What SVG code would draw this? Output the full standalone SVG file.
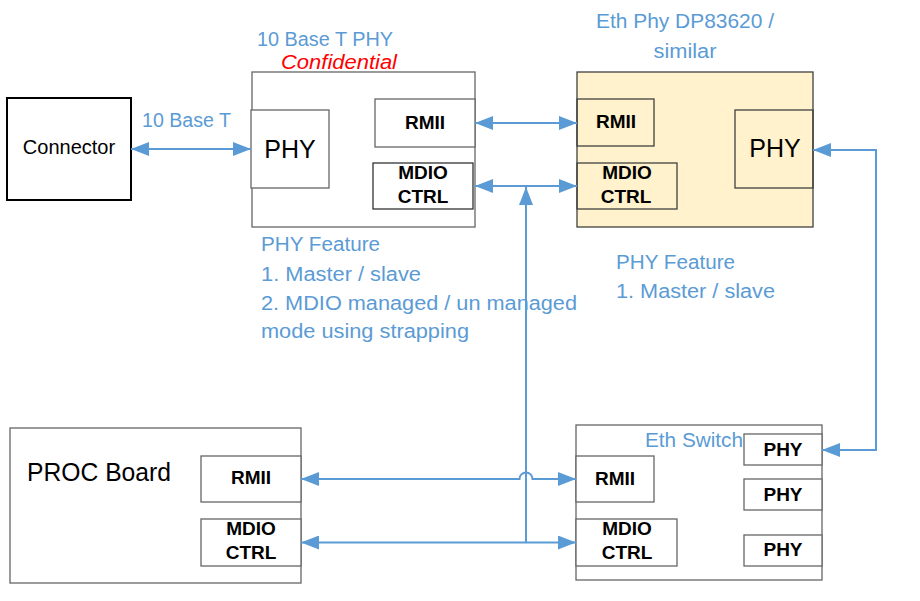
<svg xmlns="http://www.w3.org/2000/svg" width="920" height="601" viewBox="0 0 920 601">
<style>
.box{fill:#ffffff;stroke:#666666;stroke-width:1.3}
.dark{fill:none;stroke:#404040;stroke-width:1.3}
.blk{fill:#ffffff;stroke:#000000;stroke-width:2}
.lbl{font-family:"Liberation Sans",Arial,sans-serif;fill:#5B9BD5;font-size:20px}
.b{font-family:"Liberation Sans",Arial,sans-serif;font-weight:bold;fill:#000;font-size:19px;text-anchor:middle}
.n{font-family:"Liberation Sans",Arial,sans-serif;fill:#000}
.wire{fill:none;stroke:#5B9BD5;stroke-width:2}
</style>
<defs>
<marker id="ah" viewBox="0 0 18 14" refX="18" refY="7" markerWidth="18" markerHeight="14" markerUnits="userSpaceOnUse" orient="auto-start-reverse">
<path d="M0,0 L18,7 L0,14 z" fill="#5B9BD5"/>
</marker>
</defs>
<rect width="920" height="601" fill="#ffffff"/>

<g id="connector">
<rect class="blk" x="7" y="98" width="124" height="102"/>
<text class="n" x="69" y="154" font-size="20" text-anchor="middle">Connector</text>
</g>

<g id="phy10">
<text class="lbl" x="257" y="46" textLength="136" lengthAdjust="spacingAndGlyphs">10 Base T PHY</text>
<text x="281" y="69" font-family="Liberation Sans,Arial,sans-serif" font-style="italic" font-size="20" fill="#FF0000" textLength="116" lengthAdjust="spacingAndGlyphs">Confidential</text>
<rect class="box" x="252" y="72" width="223" height="155"/>
<g id="phy10-phy"><rect class="box" x="251" y="110" width="78" height="78"/>
<text class="n" x="290" y="158" font-size="25" text-anchor="middle">PHY</text></g>
<g id="phy10-rmii"><rect class="box" x="375" y="99" width="100" height="48"/>
<text class="b" x="425" y="129">RMII</text></g>
<g id="phy10-mdio"><rect class="box" x="373" y="163" width="100" height="46" style="stroke:#333"/>
<text class="b" x="423" y="179">MDIO</text><text class="b" x="423" y="203">CTRL</text></g>
</g>

<g id="ethphy">
<text class="lbl" x="685" y="28" text-anchor="middle" textLength="178" lengthAdjust="spacingAndGlyphs">Eth Phy DP83620 /</text>
<text class="lbl" x="685" y="58" text-anchor="middle" textLength="63" lengthAdjust="spacingAndGlyphs">similar</text>
<rect x="577" y="72" width="236" height="155" fill="#FFF2CC" stroke="#404040" stroke-width="1.3"/>
<g id="ethphy-rmii"><rect class="dark" x="577" y="99" width="77" height="47"/>
<text class="b" x="616" y="128">RMII</text></g>
<g id="ethphy-mdio"><rect class="dark" x="577" y="163" width="100" height="46"/>
<text class="b" x="627" y="179">MDIO</text><text class="b" x="626" y="203">CTRL</text></g>
<g id="ethphy-phy"><rect class="dark" x="735" y="110" width="78" height="78"/>
<text class="n" x="775" y="157" font-size="25" text-anchor="middle">PHY</text></g>
</g>

<g id="notes">
<text class="lbl" x="142" y="127" textLength="89" lengthAdjust="spacingAndGlyphs">10 Base T</text>
<text class="lbl" x="261" y="251" textLength="119" lengthAdjust="spacingAndGlyphs">PHY Feature</text>
<text class="lbl" x="261" y="281" textLength="160" lengthAdjust="spacingAndGlyphs">1. Master / slave</text>
<text class="lbl" x="261" y="310" textLength="316" lengthAdjust="spacingAndGlyphs">2. MDIO managed / un managed</text>
<text class="lbl" x="261" y="338" textLength="208" lengthAdjust="spacingAndGlyphs">mode using strapping</text>
<text class="lbl" x="616" y="269" textLength="119" lengthAdjust="spacingAndGlyphs">PHY Feature</text>
<text class="lbl" x="616" y="298" textLength="159" lengthAdjust="spacingAndGlyphs">1. Master / slave</text>
</g>

<g id="proc">
<rect class="box" x="10" y="428" width="291" height="155"/>
<text class="n" x="27" y="481" font-size="25" textLength="144" lengthAdjust="spacingAndGlyphs">PROC Board</text>
<g id="proc-rmii"><rect class="box" x="201" y="456" width="100" height="46"/>
<text class="b" x="251" y="484">RMII</text></g>
<g id="proc-mdio"><rect class="box" x="201" y="519" width="100" height="47"/>
<text class="b" x="251" y="535">MDIO</text><text class="b" x="251" y="559">CTRL</text></g>
</g>

<g id="switch">
<rect class="box" x="576" y="425" width="246" height="155"/>
<text class="lbl" x="645" y="447" textLength="98" lengthAdjust="spacingAndGlyphs">Eth Switch</text>
<g id="switch-rmii"><rect class="box" x="576" y="456" width="78" height="46"/>
<text class="b" x="615" y="485">RMII</text></g>
<g id="switch-mdio"><rect class="box" x="576" y="519" width="101" height="47"/>
<text class="b" x="627" y="535">MDIO</text><text class="b" x="627" y="559">CTRL</text></g>
<g id="switch-phy1"><rect class="box" x="744" y="434" width="78" height="31"/>
<text class="b" x="783" y="456" font-size="16">PHY</text></g>
<g id="switch-phy2"><rect class="box" x="744" y="479" width="78" height="31"/>
<text class="b" x="783" y="501" font-size="16">PHY</text></g>
<g id="switch-phy3"><rect class="box" x="744" y="535" width="78" height="31"/>
<text class="b" x="783" y="556" font-size="16">PHY</text></g>
</g>

<g id="connectors">
<path class="wire" d="M131,149 L251,149" marker-start="url(#ah)" marker-end="url(#ah)"/>
<path class="wire" d="M475,123 L577,123" marker-start="url(#ah)" marker-end="url(#ah)"/>
<path class="wire" d="M475,186 L577,186" marker-start="url(#ah)" marker-end="url(#ah)"/>
<path class="wire" d="M526,542 L526,187" marker-end="url(#ah)"/>
<path class="wire" d="M813,150 L876,150 L876,450 L822,450" marker-start="url(#ah)" marker-end="url(#ah)"/>
<path class="wire" d="M301,479 L519.5,479 A6.5,6.5 0 0 1 532.5,479 L576,479" marker-start="url(#ah)" marker-end="url(#ah)"/>
<path class="wire" d="M301,542.5 L576,542.5" marker-start="url(#ah)" marker-end="url(#ah)"/>
</g>
</svg>
